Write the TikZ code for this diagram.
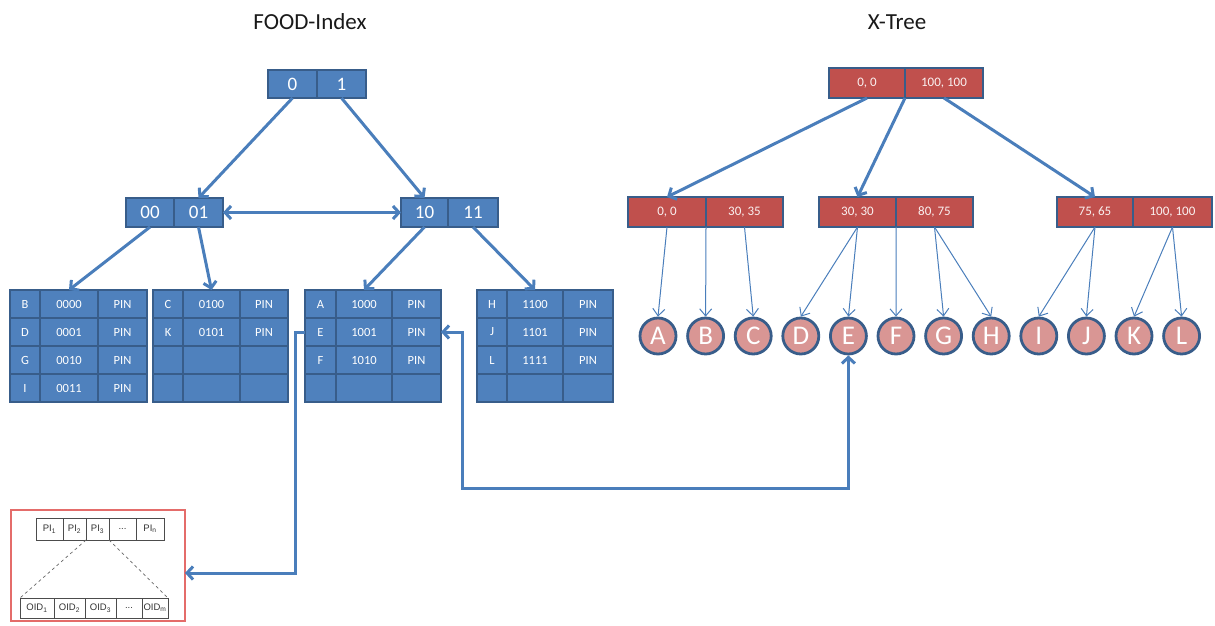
\documentclass[tikz,border=0pt]{standalone}
\usepackage{fontspec}
\setmainfont{Carlito}
\newfontfamily\arialfont{Liberation Sans}
\usetikzlibrary{arrows.meta,calc}

\definecolor{ofblue}{HTML}{4F81BD}
\definecolor{ofdark}{HTML}{385D8A}
\definecolor{ofred}{HTML}{C0504D}
\definecolor{ofpink}{HTML}{D99694}
\definecolor{ofline}{HTML}{4A7EBB}
\definecolor{boxred}{HTML}{E46C6A}

% rectangle node given by its corners (x1,y1)-(x2,y2)
\newcommand{\mkcell}[7][]{\node[#1, minimum width={(#5-#3)*1pt}, minimum height={(#6-#4)*1pt}] (#2) at ({(#3+#5)/2},{(#4+#6)/2}) {#7};}
% one table row, using the column edges \colA..\colD
\newcommand{\mkrow}[7]{%
  \mkcell[tabcell]{#1r#2c1}{\colA}{#3}{\colB}{#4}{#5}
  \mkcell[tabcell]{#1r#2c2}{\colB}{#3}{\colC}{#4}{#6}
  \mkcell[tabcell]{#1r#2c3}{\colC}{#3}{\colD}{#4}{#7}}
\newcommand{\tabframe}[1]{\draw[ofdark, line width=2pt] (#1r1c1.north west) rectangle (#1r4c3.south east);}

\tikzset{
  cellbase/.style={rectangle, inner sep=0pt, outer sep=0pt},
  bluebox/.style={cellbase, fill=ofblue, draw=ofdark, line width=1.5pt, text=white, font=\fontsize{19}{21}\selectfont},
  tabcell/.style={cellbase, fill=ofblue, draw=ofdark, line width=1.2pt, text=white, font=\fontsize{12.5}{14}\selectfont},
  redbox/.style={cellbase, fill=ofred, draw=ofdark, line width=1.5pt, text=white!92!ofred, font=\fontsize{13}{15}\selectfont},
  leaf/.style={circle, fill=ofpink, draw=ofdark, line width=2.8pt, minimum size=36pt, inner sep=0pt, text=white, font=\fontsize{27}{29}\selectfont},
  bigarrow/.style={draw=ofline, line width=3pt, -{Straight Barb[length=6pt,width=13pt]}},
  thinarrow/.style={draw=ofline, line width=1pt, -{Straight Barb[length=7pt,width=12pt]}},
  listcell/.style={cellbase, draw=black!70, line width=0.6pt, font=\arialfont\fontsize{9.5}{11}\selectfont, text=black!80},
  title/.style={font=\fontsize{23}{26}\selectfont, text=black!90}
}

\begin{document}
\begin{tikzpicture}[x=1pt, y=-1pt]
\useasboundingbox (0,0) rectangle (1215,626);

% titles
\node[title] (t-food) at (310,22) {FOOD-Index};
\node[title] (t-xtree) at (897,22) {X-Tree};

% ---------- FOOD-Index directory ----------
\mkcell[bluebox]{fr0}{268}{70}{317}{98}{0}
\mkcell[bluebox]{fr1x}{317}{70}{366}{98}{1}
\mkcell[bluebox]{fl1}{126}{198}{174}{227}{00}
\mkcell[bluebox]{fl2}{174}{198}{223}{227}{01}
\mkcell[bluebox]{fr1}{401}{198}{448}{227}{10}
\mkcell[bluebox]{fr2}{448}{198}{498}{227}{11}

% buckets
\def\colA{10}\def\colB{40}\def\colC{98}\def\colD{147}
\mkrow{ta}{1}{290}{318}{B}{0000}{PIN}
\mkrow{ta}{2}{318}{346}{D}{0001}{PIN}
\mkrow{ta}{3}{346}{374}{G}{0010}{PIN}
\mkrow{ta}{4}{374}{402}{I}{0011}{PIN}
\tabframe{ta}

\def\colA{153}\def\colB{183}\def\colC{240}\def\colD{288}
\mkrow{tb}{1}{290}{318}{C}{0100}{PIN}
\mkrow{tb}{2}{318}{346}{K}{0101}{PIN}
\mkrow{tb}{3}{346}{374}{}{}{}
\mkrow{tb}{4}{374}{402}{}{}{}
\tabframe{tb}

\def\colA{305}\def\colB{336}\def\colC{392}\def\colD{441}
\mkrow{tc}{1}{290}{318}{A}{1000}{PIN}
\mkrow{tc}{2}{318}{346}{E}{1001}{PIN}
\mkrow{tc}{3}{346}{374}{F}{1010}{PIN}
\mkrow{tc}{4}{374}{402}{}{}{}
\tabframe{tc}

\def\colA{477}\def\colB{507}\def\colC{563}\def\colD{613}
\mkrow{td}{1}{290}{318}{H}{1100}{PIN}
\mkrow{td}{2}{318}{346}{J}{1101}{PIN}
\mkrow{td}{3}{346}{374}{L}{1111}{PIN}
\mkrow{td}{4}{374}{402}{}{}{}
\tabframe{td}

% directory links
\draw[bigarrow] (fr0.south) -- (fl2.north);
\draw[bigarrow] (fr1x.south) -- (fr1.north);
\draw[bigarrow, {Straight Barb[length=6pt,width=13pt]}-{Straight Barb[length=6pt,width=13pt]}] (fl2.east) -- (fr1.west);
\draw[bigarrow] (fl1.south) -- (tar1c2.north);
\draw[bigarrow] (fl2.south) -- (tbr1c2.north);
\draw[bigarrow] (fr1.south) -- (tcr1c2.north);
\draw[bigarrow] (fr2.south) -- (tdr1c2.north);

% ---------- PI / OID list ----------
\draw[boxred, line width=1.2pt] (11,510) rectangle (185,621);
\node[cellbase, minimum size=0pt] (lbox) at (185,573) {};
\mkcell[listcell]{pi1}{36}{518}{63}{540}{PI\textsubscript{1}}
\mkcell[listcell]{pi2}{63}{518}{86}{540}{PI\textsubscript{2}}
\mkcell[listcell]{pi3}{86}{518}{109}{540}{PI\textsubscript{3}}
\mkcell[listcell]{pi4}{109}{518}{136}{540}{...}
\mkcell[listcell]{pi5}{136}{518}{164}{540}{PI\textsubscript{n}}
\mkcell[listcell]{oid1}{20}{598}{54}{618}{OID\textsubscript{1}}
\mkcell[listcell]{oid2}{54}{598}{85}{618}{OID\textsubscript{2}}
\mkcell[listcell]{oid3}{85}{598}{116}{618}{OID\textsubscript{3}}
\mkcell[listcell]{oid4}{116}{598}{142}{618}{...}
\mkcell[listcell]{oid5}{142}{598}{168}{618}{OID\textsubscript{m}}
\draw[black!60, dashed, line width=0.7pt] (pi3.south west) -- (oid1.north west);
\draw[black!60, dashed, line width=0.7pt] (pi3.south east) -- (oid5.north east);

% ---------- X-Tree ----------
\mkcell[redbox]{xr0a}{829}{68}{905}{98}{0, 0}
\mkcell[redbox]{xr0b}{905}{68}{983}{98}{100, 100}
\mkcell[redbox]{xl1}{628}{197}{706}{227}{0, 0}
\mkcell[redbox]{xl2}{706}{197}{783}{227}{30, 35}
\mkcell[redbox]{xm1}{819}{197}{896}{227}{30, 30}
\mkcell[redbox]{xm2}{896}{197}{973}{227}{80, 75}
\mkcell[redbox]{xq1}{1057}{197}{1133}{227}{75, 65}
\mkcell[redbox]{xq2}{1133}{197}{1212}{227}{100, 100}

\foreach \n [count=\i from 0] in {A,B,C,D,E,F,G,H,I,J,K,L}
  \node[leaf] (c\n) at ({658+47.6*\i},336) {\n};

\draw[bigarrow] (xr0a.south) -- (xl1.north);
\draw[bigarrow] (xr0a.south east) -- (xm1.north);
\draw[bigarrow] (xr0b.south) -- (xq1.north);

\draw[thinarrow] (xl1.south) -- (cA.north);
\draw[thinarrow] (xl1.south east) -- (cB.north);
\draw[thinarrow] (xl2.south) -- (cC.north);
\draw[thinarrow] (xm1.south) -- (cD.north);
\draw[thinarrow] (xm1.south) -- (cE.north);
\draw[thinarrow] (xm1.south east) -- (cF.north);
\draw[thinarrow] (xm2.south) -- (cG.north);
\draw[thinarrow] (xm2.south) -- (cH.north);
\draw[thinarrow] (xq1.south) -- (cI.north);
\draw[thinarrow] (xq1.south) -- (cJ.north);
\draw[thinarrow] (xq2.south) -- (cK.north);
\draw[thinarrow] (xq2.south) -- (cL.north);

% ---------- cross links ----------
\draw[bigarrow] (tcr2c1.west) -- ++(-10,0) |- (lbox);
\draw[bigarrow, {Straight Barb[length=6pt,width=13pt]}-{Straight Barb[length=6pt,width=13pt]}]
  (tcr2c3.east) -- ++(21,0) -- ++(0,156) -| (cE.south);
\end{tikzpicture}
\end{document}
